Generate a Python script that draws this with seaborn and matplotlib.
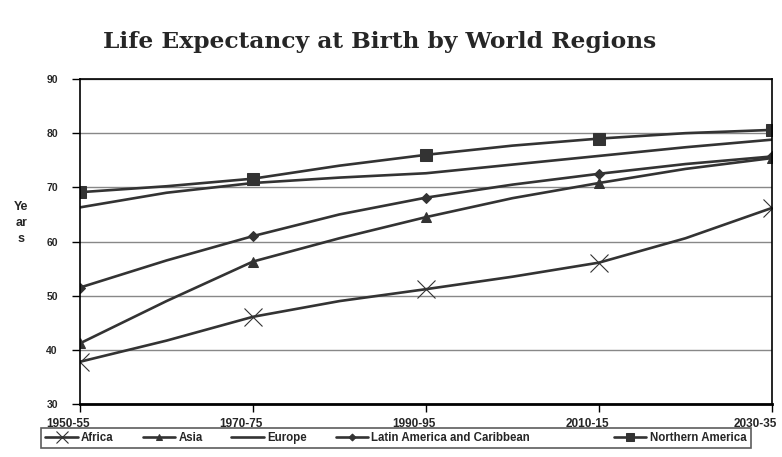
import numpy as np
import pandas as pd
import matplotlib
matplotlib.use("Agg")
import matplotlib.pyplot as plt
import matplotlib.transforms as mtransforms
import seaborn as sns

periods = ["1950-55", "1960-65", "1970-75", "1980-85", "1990-95",
           "2000-05", "2010-15", "2020-25", "2030-35"]
tick_labels = ["1950-55", "1970-75", "1990-95", "2010-15", "2030-35"]
africa = [37.8, 41.7, 46.1, 49.0, 51.2, 53.5, 56.1, 60.6, 66.2]
asia = [41.2, 49.0, 56.3, 60.6, 64.5, 68.0, 70.8, 73.4, 75.4]
europe = [66.3, 69.0, 70.8, 71.8, 72.6, 74.2, 75.8, 77.4, 78.8]
latin = [51.5, 56.5, 61.0, 65.0, 68.1, 70.5, 72.5, 74.3, 75.7]
namerica = [69.1, 70.2, 71.6, 74.0, 76.0, 77.7, 79.0, 80.0, 80.6]
yticks = [30, 40, 50, 60, 70, 80, 90]

series = {
    "Africa": africa,
    "Asia": asia,
    "Europe": europe,
    "Latin America and Caribbean": latin,
    "Northern America": namerica,
}
styles = {
    "Africa": dict(marker="x", markersize=13, markeredgewidth=0.8),
    "Asia": dict(marker="^", markersize=7),
    "Europe": dict(marker=None),
    "Latin America and Caribbean": dict(marker="D", markersize=5),
    "Northern America": dict(marker="s", markersize=8),
}

sns.set_theme(style="white")
plt.rcParams["font.family"] = ["Liberation Sans Narrow", "Liberation Sans", "DejaVu Sans"]

fig = plt.figure(figsize=(7.82, 4.57), dpi=100)
ax = fig.add_axes([80 / 782, 1 - 404 / 457, (772 - 80) / 782, (404 - 79) / 457])

x = np.arange(len(periods))
col = "#333333"
for name, vals in series.items():
    df = pd.DataFrame({"x": x, "y": vals})
    sns.lineplot(data=df, x="x", y="y", ax=ax, color=col, linewidth=1.9,
                 markevery=2, markeredgecolor=col, markerfacecolor=col,
                 label=name, **styles[name])

ax.set_xlim(0, len(periods) - 1)
ax.set_ylim(30, 90)
ax.set_yticks(yticks)
ax.set_yticklabels([str(v) for v in yticks], fontsize=7.5, fontweight="bold")
ax.set_xticks(x[::2])
ax.set_xticklabels(tick_labels, fontsize=8.5, fontweight="bold")
ax.tick_params(axis="both", direction="out", length=6, width=1, color="black",
               left=True, bottom=True, pad=4)
ax.tick_params(axis="y", pad=10)
xlabs = ax.get_xticklabels()
for i, t in enumerate(xlabs):
    dx = -17 if i == len(xlabs) - 1 else -12
    t.set_transform(t.get_transform() +
                    mtransforms.ScaledTranslation(dx / 100, 0, fig.dpi_scale_trans))
ax.grid(axis="y", color="#888888", linewidth=1)
ax.grid(axis="x", visible=False)
for s in ["left", "right", "top"]:
    ax.spines[s].set_visible(True)
    ax.spines[s].set_color("black")
    ax.spines[s].set_linewidth(1.2)
ax.spines["bottom"].set_color("black")
ax.spines["bottom"].set_linewidth(2)
ax.set_xlabel("")
ax.set_ylabel("Ye\nar\ns", rotation=0, fontsize=9, fontweight="bold",
              family=["Liberation Sans", "DejaVu Sans"], linespacing=1.45)
ax.yaxis.set_label_coords(-0.085, 0.49)

ax.get_legend().remove()
h, l = ax.get_legend_handles_labels()
l = [lab + ("                 " if lab.startswith("Latin") else "") for lab in l]
leg = fig.legend(h, l, loc="center", bbox_to_anchor=(396 / 782, 1 - 438 / 457),
                 ncol=5, frameon=True, fancybox=False, edgecolor="#333333",
                 prop={"size": 8.3, "weight": "bold"}, handlelength=2.8,
                 handletextpad=0.3, columnspacing=2.5, borderpad=0.35,
                 markerscale=0.7)
leg.get_frame().set_linewidth(1.2)

fig.text(380 / 782, 1 - 42 / 457, "Life Expectancy at Birth by World Regions",
         ha="center", va="center", fontsize=16.8, fontweight="bold",
         family=["DejaVu Serif"])

fig.savefig("out.png", dpi=100)
